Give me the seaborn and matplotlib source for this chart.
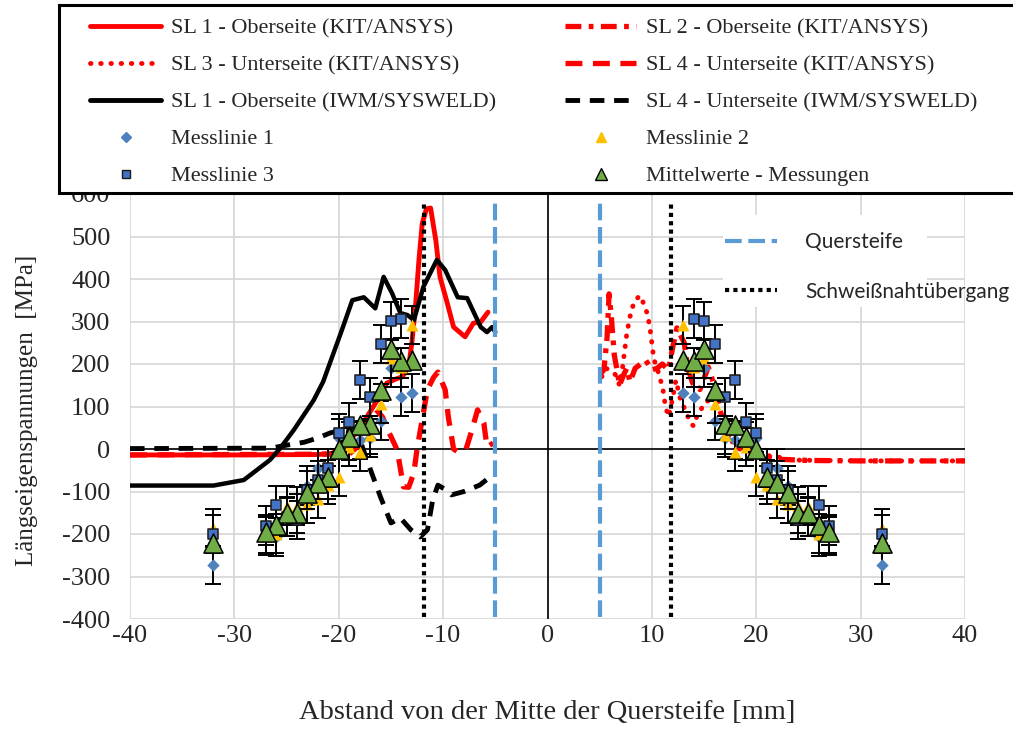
import numpy as np
import matplotlib
matplotlib.use("Agg")
import matplotlib.pyplot as plt
from matplotlib.lines import Line2D
from matplotlib.patches import Rectangle
import seaborn as sns

# ---------------- Simulation results (x in mm, stress in MPa) ----------------
# SL 1 - Oberseite (KIT/ANSYS), left of the stiffener
sl1_kit_x = [-40, -30, -22, -20.6, -18.9, -17.6, -16.3, -15.4, -14.5, -13.9, -13.3, -13.0,
             -12.65, -12.3, -12.0, -11.6, -11.2, -10.7, -10.3, -9.6, -9.0, -7.9, -7.1, -6.4, -5.7]
sl1_kit_y = [-14, -14, -13, -10, 21, 64, 115, 155, 165, 170, 194, 249,
             335, 450, 531, 565, 567, 491, 405, 343, 287, 264, 296, 299, 322]

# SL 2 - Oberseite (KIT/ANSYS), right of the stiffener
sl2_kit_x = [5.0, 5.4, 5.7, 5.9, 6.1, 6.4, 6.6, 6.9, 7.3, 7.6, 7.9, 8.4, 9.4, 10.0, 10.5, 11.0,
             11.6, 12.0, 12.4, 13.1, 13.4, 13.9, 14.6, 15.4, 15.9, 16.6, 16.9, 17.5, 18.5,
             19.5, 20.5, 22, 25, 30, 40]
sl2_kit_y = [175, 186, 260, 365, 315, 221, 194, 150, 175, 190, 158, 190, 209, 186, 190, 200,
             186, 240, 285, 250, 195, 155, 140, 193, 155, 85, 61, 30, 5,
             -8, -17, -24, -27, -28, -28]

# SL 3 - Unterseite (KIT/ANSYS), right of the stiffener
sl3_kit_x = [5.2, 5.6, 6.0, 6.5, 6.9, 7.2, 7.6, 7.9, 8.3, 8.85, 9.2, 9.55, 9.8, 10.0, 10.2,
             10.5, 10.7, 11.0, 11.3, 11.6, 12.0, 12.3, 12.75, 13.2, 13.7, 14.0, 14.3, 14.7,
             15.0, 15.5, 16.0, 16.6, 16.8, 17.2, 18.5, 19.5, 20.7, 22.6, 23.3, 30, 40]
sl3_kit_y = [170, 190, 185, 175, 150, 194, 272, 311, 347, 361, 343, 319, 288, 249, 209,
             194, 170, 150, 100, 76, 120, 162, 115, 92, 61, 54, 76, 92,
             108, 115, 104, 87, 61, 29, -2, -7, -14, -21, -26, -28, -28]

# SL 4 - Unterseite (KIT/ANSYS), left of the stiffener
sl4_kit_x = [-40, -19, -18, -17.2, -16.5, -15.8, -15.3, -14.4, -13.8, -13.3, -12.8, -12.5,
             -12.0, -11.5, -10.9, -10.5, -9.8, -9.5, -9.0, -8.5, -7.8, -7.3, -6.7, -6.1, -5.8, -5.2]
sl4_kit_y = [-14, -12, 10, 70, 95, 75, 45, -2, -89, -90, -56, 0,
             70, 140, 169, 181, 139, 75, 0, -8, 0, 40, 92, 61, 5, 14]

# SL 1 - Oberseite (IWM/SYSWELD)
sl1_iwm_x = [-40, -32, -29.1, -26.6, -25.6, -24.3, -22.4, -21.5, -19.8, -18.7, -17.6, -16.5,
             -15.7, -14.9, -14.1, -13.4, -12.8, -11.9, -10.6, -9.8, -8.6, -7.7, -6.4, -5.8,
             -5.3, -5.0]
sl1_iwm_y = [-86, -86, -73, -26, 2, 45, 115, 158, 273, 350, 357, 331,
             405, 367, 320, 315, 303, 381, 445, 421, 357, 355, 287, 275,
             287, 275]

# SL 4 - Unterseite (IWM/SYSWELD)
sl4_iwm_x = [-40, -26.5, -25, -23.3, -22, -20.8, -19.5, -18.2, -17.3, -16, -15, -14.1, -13.1,
             -12.2, -11.5, -11, -10.5, -9.8, -9.2, -8, -6.5, -5.3]
sl4_iwm_y = [1, 2, 9, 16, 26, 38, 45, 38, -26, -113, -174, -162, -190,
             -207, -190, -120, -85, -95, -108, -100, -85, -62]

# Stiffener faces and weld toes
quersteife_x = [-5.0, 5.0]
nahtuebergang_x = [-11.8, 11.8]
marker_line_y = [-395, 580]

# ---------------- Measurements (symmetric about the stiffener axis) ----------------
abstand = [13, 14, 15, 16, 17, 18, 19, 20, 21, 22, 23, 24, 25, 26, 27, 32]
messlinie_1 = [131, 123, 191, 67, 26, 21, 18, 25, -72, -45, -86, -152, -159, -207, -200, -273]
messlinie_2 = [292, 192, 213, 107, 33, -6, 5, -65, -85, -118, -130, -134, -133, -199, -205, -186]
messlinie_3 = [np.nan, 307, 301, 247, 123, 162, 64, 37, -45, -73, -97, -167, -160, -132, -180, -200]
mittelwerte = [209, 207, 235, 139, 58, 56, 29, -1, -67, -81, -104, -151, -151, -179, -195, -222]
messfehler = 45

x_ticks = list(range(-40, 41, 10))
y_ticks = list(range(-400, 601, 100))

# ---------------- Styling ----------------
sns.set_theme(style="white")
plt.rcParams["font.family"] = ["Liberation Serif", "DejaVu Serif"]
plt.rcParams["axes.unicode_minus"] = False

RED = "#FF0000"
BLUE_LINE = "#5B9BD5"
C_ML1 = "#4F81BD"
C_ML2 = "#FFC000"
C_ML3 = "#4472C4"
C_MIT = "#70AD47"

ls_dashdot = (0, (3.0, 1.4, 0.9, 1.4))
ls_dot = (0, (0.1, 2.0))
ls_dash = (0, (3.2, 2.0))
ls_dash_blk = (0, (3.0, 2.0))

fig = plt.figure(figsize=(10.13, 7.31), dpi=100)
ax = fig.add_axes([130 / 1013, 1 - 619 / 731, 835 / 1013, 425 / 731])

ax.set_xlim(-40, 40)
ax.set_ylim(-400, 600)
ax.set_xticks(x_ticks)
ax.set_yticks(y_ticks)
ax.grid(True, color="#D9D9D9", lw=1.3)
ax.set_axisbelow(True)
for sp in ax.spines.values():
    sp.set_visible(False)
ax.tick_params(axis="both", length=0, labelsize=19)
ax.tick_params(axis="y", pad=14)
ax.tick_params(axis="x", pad=4)

ax.axhline(0, color="black", lw=1.2, zorder=1)
ax.axvline(0, color="black", lw=1.2, zorder=1)

# simulation curves
sns.lineplot(x=sl4_kit_x, y=sl4_kit_y, sort=False, estimator=None, color=RED, lw=3.8,
             linestyle=ls_dash, ax=ax, zorder=3)
sns.lineplot(x=sl1_kit_x, y=sl1_kit_y, sort=False, estimator=None, color=RED, lw=3.5,
             ax=ax, zorder=3)
sns.lineplot(x=sl3_kit_x, y=sl3_kit_y, sort=False, estimator=None, color=RED, lw=3.5,
             linestyle=ls_dot, dash_capstyle="round", ax=ax, zorder=3)
sns.lineplot(x=sl2_kit_x, y=sl2_kit_y, sort=False, estimator=None, color=RED, lw=3.8,
             linestyle=ls_dashdot, ax=ax, zorder=3)
sns.lineplot(x=sl1_iwm_x, y=sl1_iwm_y, sort=False, estimator=None, color="black", lw=3.2,
             ax=ax, zorder=3)
sns.lineplot(x=sl4_iwm_x, y=sl4_iwm_y, sort=False, estimator=None, color="black", lw=3.5,
             linestyle=ls_dash_blk, ax=ax, zorder=3)

# stiffener and weld toe positions
ax.vlines(quersteife_x, marker_line_y[0], marker_line_y[1], color=BLUE_LINE, lw=3,
          linestyles=[(0, (4.0, 1.6))], zorder=3.5)
ax.vlines(nahtuebergang_x, marker_line_y[0], marker_line_y[1], color="black", lw=3,
          linestyles=[(0, (1, 1))], zorder=3.5)

# measurements mirrored on both sides of the stiffener
xs = [-d for d in abstand] + list(abstand)

def both(v):
    return list(v) + list(v)

series = [
    (both(messlinie_1), dict(marker="D", s=40, color=C_ML1, edgecolor=C_ML1, linewidth=0)),
    (both(messlinie_2), dict(marker="^", s=75, color=C_ML2, edgecolor=C_ML2, linewidth=0)),
    (both(messlinie_3), dict(marker="s", s=55, color=C_ML3, edgecolor="#1A1A1A", linewidth=1.1)),
]
z = 5
for vals, kw in series:
    arr = np.array(vals, dtype=float)
    ok = ~np.isnan(arr)
    ax.errorbar(np.array(xs)[ok], arr[ok], yerr=messfehler, fmt="none", ecolor="black",
                elinewidth=1.4, capsize=6, capthick=1.4, zorder=z)
    sns.scatterplot(x=np.array(xs)[ok], y=arr[ok], ax=ax, zorder=z + 0.5, legend=False, **kw)
    z += 1
sns.scatterplot(x=xs, y=both(mittelwerte), marker="^", s=190, color=C_MIT,
                edgecolor="black", linewidth=1.1, ax=ax, zorder=9, legend=False)

# axis labels
ax.set_xlabel("Abstand von der Mitte der Quersteife [mm]", fontsize=20.5, va="center")
ax.xaxis.set_label_coords(0.5, -0.219)
ax.set_ylabel("Längseigenspannungen  [MPa]", fontsize=18, va="center")
ax.yaxis.set_label_coords(-0.1234, 0.492)

# legend for the position markers inside the plot
ax.add_patch(Rectangle((0.71, 0.734), 0.245, 0.217, transform=ax.transAxes,
                       facecolor="white", edgecolor="none", zorder=2))
h_q = Line2D([], [], color=BLUE_LINE, lw=3, linestyle=(0, (4.0, 1.6)))
h_n = Line2D([], [], color="black", lw=3, linestyle=(0, (1, 1)))
leg_in = ax.legend([h_q, h_n], ["Quersteife", "Schweißnahtübergang"],
                   loc="center left", bbox_to_anchor=(725 / 1013, 1 - 267 / 731),
                   bbox_transform=fig.transFigure, frameon=False,
                   prop={"family": "Lato", "size": 15}, handlelength=2.5,
                   handletextpad=1.35, labelspacing=1.4, borderpad=0, borderaxespad=0)
leg_in.set_zorder(10)

# main legend box on top
fig.patches.append(Rectangle((59 / 1013, 1 - 192.5 / 731), 1.0, 187.5 / 731,
                             transform=fig.transFigure, facecolor="white",
                             edgecolor="black", lw=2.2, zorder=4))

h_sl1kit = Line2D([], [], color=RED, lw=3.5)
h_sl2 = Line2D([], [], color=RED, lw=3.8, linestyle=ls_dashdot)
h_sl3 = Line2D([], [], color=RED, lw=3.5, linestyle=ls_dot, dash_capstyle="round")
h_sl4kit = Line2D([], [], color=RED, lw=3.8, linestyle=ls_dash)
h_sl1iwm = Line2D([], [], color="black", lw=3.5)
h_sl4iwm = Line2D([], [], color="black", lw=3.5, linestyle=ls_dash_blk)
h_ml1 = Line2D([], [], ls="none", marker="D", ms=5, color=C_ML1)
h_ml2 = Line2D([], [], ls="none", marker="^", ms=7, color=C_ML2)
h_ml3 = Line2D([], [], ls="none", marker="s", ms=6, markerfacecolor=C_ML3, markeredgecolor="#1A1A1A")
h_mit = Line2D([], [], ls="none", marker="^", ms=9, markerfacecolor=C_MIT, markeredgecolor="black")

leg_kw = dict(loc="center left", frameon=False, fontsize=16, handlelength=3.2,
              handletextpad=0.45, labelspacing=0.74, borderpad=0, borderaxespad=0)
leg1 = fig.legend([h_sl1kit, h_sl3, h_sl1iwm, h_ml1, h_ml3],
                  ["SL 1 - Oberseite (KIT/ANSYS)", "SL 3 - Unterseite (KIT/ANSYS)",
                   "SL 1 - Oberseite (IWM/SYSWELD)", "Messlinie 1", "Messlinie 3"],
                  bbox_to_anchor=(90 / 1013, 1 - 102 / 731), **leg_kw)
leg2 = fig.legend([h_sl2, h_sl4kit, h_sl4iwm, h_ml2, h_mit],
                  ["SL 2 - Oberseite (KIT/ANSYS)", "SL 4 - Unterseite (KIT/ANSYS)",
                   "SL 4 - Unterseite (IWM/SYSWELD)", "Messlinie 2", "Mittelwerte - Messungen"],
                  bbox_to_anchor=(565 / 1013, 1 - 102 / 731), **leg_kw)
leg1.set_zorder(6)
leg2.set_zorder(6)

fig.savefig("out.png", dpi=100)
